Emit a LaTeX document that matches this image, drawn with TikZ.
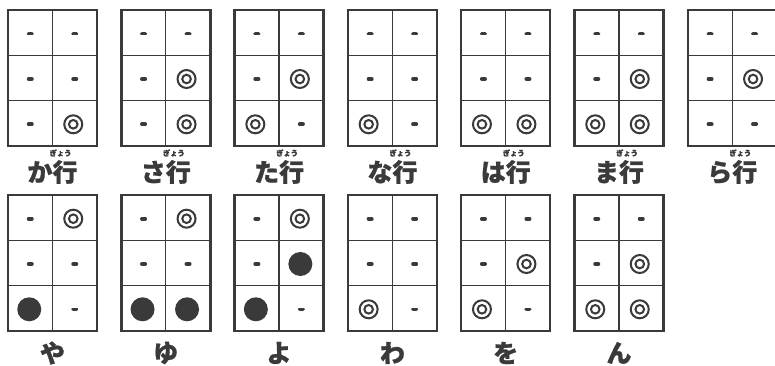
\documentclass[tikz,border=0pt]{standalone}
\usepackage{fontspec}
\newfontfamily\jp{Noto Sans CJK JP}[BoldFeatures={FakeBold=0.8}]
\definecolor{ink}{HTML}{3A3A3A}
\begin{document}
\begin{tikzpicture}[x=1pt,y=-1pt,
  frame/.style={draw=ink, line width=2.4pt},
  divider/.style={draw=ink, line width=1.3pt},
  dashmark/.style={draw=ink, line width=3.6pt, line cap=round},
  ring/.style={draw=ink, line width=2pt},
  dot/.style={fill=ink},
  kana/.style={font=\jp\bfseries\fontsize{25}{25}\selectfont, text=ink, inner sep=0pt},
  ruby/.style={font=\jp\bfseries\fontsize{7.5}{7.5}\selectfont, text=ink, inner sep=0pt}]
\useasboundingbox (0,0) rectangle (775,366);
\fill[white] (0,0) rectangle (775,366);
\newcommand\chartgrid[3]{%
  \draw[divider] (#1+44.5,#2) -- ++(0,136);
  \draw[divider] (#1,#2+45.3) -- ++(89,0);
  \draw[divider] (#1,#2+90.7) -- ++(89,0);
  \draw[frame] (#1,#2) rectangle ++(89,136);
  \foreach \m [count=\k from 0] in #3 {
    \pgfmathsetmacro\cx{#1+22.25+44.5*mod(\k,2)}
    \pgfmathsetmacro\cy{#2+23.7+45.3*int(\k/2)}
    \ifcase\m
      \draw[dashmark] (\cx-1.7,\cy) -- (\cx+1.7,\cy);
    \or
      \draw[ring] (\cx-1.5,\cy) circle (9); \draw[ring] (\cx-1.5,\cy) circle (4.3);
    \or
      \fill[dot] (\cx-1,\cy) circle (12);
    \fi
  }%
}
\foreach \i/\lab/\marks in {0/か/{0,0,0,0,0,1}, 1/さ/{0,0,0,1,0,1}, 2/た/{0,0,0,1,1,0}, 3/な/{0,0,0,0,1,0}, 4/は/{0,0,0,0,1,1}, 5/ま/{0,0,0,1,1,1}, 6/ら/{0,0,0,1,0,0}} {
  \pgfmathsetmacro\xo{8+113.3*\i}
  \chartgrid{\xo}{10}{\marks}
  \node[kana] (top\i) at (\xo+44.5,172) {\lab 行};
  \node[ruby] (ruby\i) at (\xo+52.5,153) {ぎょう};
}
\foreach \i/\lab/\marks in {0/や/{0,1,0,0,2,0}, 1/ゆ/{0,1,0,0,2,2}, 2/よ/{0,1,0,2,2,0}, 3/わ/{0,0,0,0,1,0}, 4/を/{0,0,0,1,1,0}, 5/ん/{0,0,0,1,1,1}} {
  \pgfmathsetmacro\xo{8+113.3*\i}
  \chartgrid{\xo}{195}{\marks}
  \node[kana] (bot\i) at (\xo+44.5,353) {\lab};
}
\end{tikzpicture}
\end{document}
